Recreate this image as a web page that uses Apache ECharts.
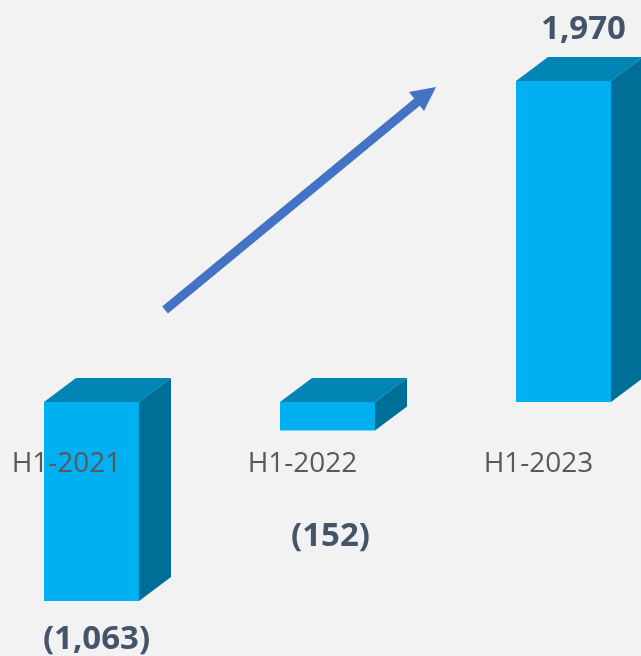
<!DOCTYPE html>
<html><head><meta charset="utf-8">
<style>html,body{margin:0;padding:0;background:#F2F2F2}#c{width:641px;height:656px}</style>
<script src="https://cdn.jsdelivr.net/npm/echarts@6/dist/echarts.min.js"></script>
</head><body><div id="c"></div>
<script>
const categories = ['H1-2021', 'H1-2022', 'H1-2023'];
const values = [-1063, -152, 1970];
const valueLabels = ['(1,063)', '(152)', '1,970'];
const chart = echarts.init(document.getElementById('c'));
const depthX = 32, depthY = 24, halfW = 47.5;
const C = {front:'#00B0F0', top:'#0085B5', side:'#006F98', label:'#44546A', axis:'#595959'};
const labelDx = [5, 3, 20], labelGap = [39, 106, 51];
chart.setOption({
  backgroundColor: '#F2F2F2',
  animation: false,
  grid: {left: -26.5, width: 708, top: 0, height: 656, containLabel: false, outerBoundsMode: 'none'},
  xAxis: {type: 'category', data: categories, offset: -206,
    axisLine: {show: false, onZero: false}, axisTick: {show: false}, splitLine: {show: false},
    z: 10,
    axisLabel: {show: true, interval: 0, color: C.axis, fontFamily: 'Open Sans', fontSize: 28, margin: 0, padding: [0, 50, 0, 0]}},
  yAxis: {type: 'value', min: -1357, max: 2402, show: false, splitLine: {show: false},
    breaks: [{start: 600, end: 855, gap: 0}],
    breakArea: {show: false}},
  series: [{
    type: 'custom', coordinateSystem: 'cartesian2d', clip: false, z: 2,
    data: values.map((v, i) => [i, v]),
    renderItem(params, api) {
      const i = api.value(0), v = api.value(1);
      const a = api.coord([i, 0]), b = api.coord([i, v]);
      const cx = a[0], y0 = Math.min(a[1], b[1]), y1 = Math.max(a[1], b[1]);
      const l = cx - halfW, r = cx + halfW;
      const textY = v >= 0 ? y0 - labelGap[i] : y1 + labelGap[i];
      return {type: 'group', children: [
        {type: 'polygon', shape: {points: [[l, y0], [l + depthX, y0 - depthY], [r + depthX, y0 - depthY], [r, y0]]}, style: {fill: C.top}},
        {type: 'polygon', shape: {points: [[r, y0], [r + depthX, y0 - depthY], [r + depthX, y1 - depthY], [r, y1]]}, style: {fill: C.side}},
        {type: 'rect', shape: {x: l, y: y0, width: r - l, height: y1 - y0}, style: {fill: C.front}},
        {type: 'text', style: {text: valueLabels[i], x: cx + labelDx[i], y: textY, align: 'center', verticalAlign: 'middle',
          fill: C.label, font: 'bold 33px "Open Sans"'}}
      ]};
    }
  }],
  graphic: [
    {type: 'line', z: 5, shape: {x1: 165, y1: 310, x2: 422, y2: 98}, style: {stroke: '#4472C4', lineWidth: 9}},
    {type: 'polygon', z: 5, shape: {points: [[436, 87], [424, 111], [409, 92]]}, style: {fill: '#4472C4'}}
  ]
});
</script></body></html>
